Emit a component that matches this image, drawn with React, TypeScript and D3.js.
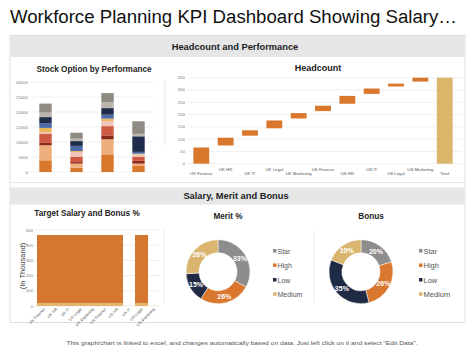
import React from "react";
import * as d3 from "d3";

const FONT = "'Liberation Sans', Arial, sans-serif";

// ---- Stock Option by Performance ----
const stockCategories = ["Star", "High", "Low", "Medium"];
const stockSeries = ["S1", "S2", "S3", "S4", "S5", "S6", "S7", "S8", "S9", "S10"];
const stockColors = ["#d9772d", "#eeaf7c", "#8c2b1d", "#cf5a44", "#f1c4b6", "#e8b65b", "#4c69a6", "#1f2b4b", "#bab5ad", "#8f8a83"];
const stockValues = [
  [3900, 1450, 5900, 2000],
  [5000, 1350, 5000, 800],
  [800, 500, 1300, 900],
  [3100, 1700, 3100, 1300],
  [500, 1700, 1700, 800],
  [1400, 300, 800, 300],
  [1600, 1700, 1300, 600],
  [2000, 1600, 2200, 5200],
  [1500, 800, 2000, 800],
  [3000, 2000, 3000, 4200],
];
const stockTicks = [0, 5000, 10000, 15000, 20000, 25000, 30000];

// ---- Headcount waterfall ----
const headCategories = ["UK Finance", "UK HR", "UK IT", "UK Legal", "UK Marketing", "US Finance", "US HR", "US IT", "US Legal", "US Marketing"];
const headValues = [70, 40, 30, 40, 30, 30, 40, 30, 20, 20];
const headTotalLabel = "Total";
const headTicks = [0, 50, 100, 150, 200, 250, 300, 350];

// ---- Target Salary and Bonus ----
const targetCategories = ["UK Finance", "UK HR", "UK IT", "UK Legal", "UK Marketing", "US Finance", "US HR", "US IT", "US Legal", "US Marketing"];
const targetSalary = [22, 22, 22, 22, 22, 22, 22, 0, 22, 0];
const targetBonus = [445, 445, 445, 445, 445, 445, 445, 0, 445, 0];
const targetTicks = [0, 100, 200, 300, 400, 500];

// ---- Donuts ----
const donutLabels = ["Star", "High", "Low", "Medium"];
const donutColors = ["#8d8d8d", "#d8772d", "#1f2a45", "#d9b56f"];
const meritValues = [33, 26, 15, 26];
const bonusValues = [20, 26, 35, 19];

function StockChart() {
  const x = d3.scaleBand<string>().domain(stockCategories).range([30, 154]).paddingInner(0.6).paddingOuter(0.3);
  const y = d3.scaleLinear().domain([0, 30000]).range([172, 82]);
  const stack = d3.stack<number>().keys(stockSeries.map((_, i) => String(i))).value((d: any, k) => stockValues[+k][d]);
  const layers = stack(stockCategories.map((_, i) => i) as any);
  return (
    <g>
      <text x={94} y={72} textAnchor="middle" fontSize={8.2} fontWeight="bold" fill="#222">Stock Option by Performance</text>
      {stockTicks.map((t) => (
        <g key={t}>
          <line x1={30} x2={154} y1={y(t)} y2={y(t)} stroke="#e6e6e6" strokeWidth={0.6} />
          <text x={28} y={y(t) + 1.5} textAnchor="end" fontSize={4.3} fill="#777">{t}</text>
        </g>
      ))}
      {layers.map((layer, li) => (
        <g key={li} fill={stockColors[li]}>
          {layer.map((d, ci) => (
            <rect key={ci} x={x(stockCategories[ci])} width={x.bandwidth()} y={y(d[1])} height={Math.max(0, y(d[0]) - y(d[1]))} />
          ))}
        </g>
      ))}
    </g>
  );
}

function HeadcountChart() {
  const cats = [...headCategories, headTotalLabel];
  const x = d3.scaleBand<string>().domain(cats).range([189, 457]).paddingInner(0.35).paddingOuter(0.18);
  const y = d3.scaleLinear().domain([0, 350]).range([163.7, 77.7]);
  const cum = d3.cumsum(headValues);
  const total = d3.sum(headValues);
  const bars = headCategories.map((c, i) => ({ c, start: i === 0 ? 0 : cum[i - 1], end: cum[i] }));
  return (
    <g>
      <text x={318} y={71} textAnchor="middle" fontSize={9} fontWeight="bold" fill="#222">Headcount</text>
      {headTicks.map((t) => (
        <g key={t}>
          <line x1={188} x2={462} y1={y(t)} y2={y(t)} stroke="#e6e6e6" strokeWidth={0.6} />
          <text x={185} y={y(t) + 1.5} textAnchor="end" fontSize={4.3} fill="#777">{t}</text>
        </g>
      ))}
      {bars.map((b, i) => {
        const top = y(b.end) + (i === headCategories.length - 1 ? 0 : 1);
        const bot = y(b.start) - (i === 0 ? 0 : 1);
        return <rect key={b.c} x={x(b.c)} width={x.bandwidth()} y={top} height={bot - top} fill="#d9772d" />;
      })}
      <rect x={x(headTotalLabel)} width={x.bandwidth()} y={y(total)} height={y(0) - y(total)} fill="#d9b66a" />
      {cats.map((c, i) => (
        <text key={c} x={(x(c) as number) + x.bandwidth() / 2} y={i % 2 === 0 ? 175 : 170.5} textAnchor="middle" fontSize={4.3} fill="#555">{c}</text>
      ))}
    </g>
  );
}

function TargetChart() {
  const x = d3.scaleBand<string>().domain(targetCategories).range([37.3, 159.3]).padding(0);
  const y = d3.scaleLinear().domain([0, 500]).range([306, 230]);
  return (
    <g>
      <text x={87} y={216} textAnchor="middle" fontSize={8.2} fontWeight="bold" fill="#222">Target Salary and Bonus %</text>
      <text transform={`translate(24.5,266) rotate(-90)`} textAnchor="middle" fontSize={7.5} fill="#444">(In Thousand)</text>
      {targetTicks.map((t) => (
        <g key={t}>
          <line x1={35} x2={160} y1={y(t)} y2={y(t)} stroke="#eadfcf" strokeWidth={0.6} />
          <text x={33} y={y(t) + 1.5} textAnchor="end" fontSize={4.2} fill="#777">{t}</text>
        </g>
      ))}
      <g shapeRendering="crispEdges">
        {targetCategories.map((c, i) => (
          <g key={c}>
            {targetSalary[i] > 0 && (
              <rect x={x(c)} width={x.bandwidth() + 0.6} y={y(targetSalary[i])} height={y(0) - y(targetSalary[i])} fill="#e3b56e" />
            )}
            {targetBonus[i] > 0 && (
              <rect x={x(c)} width={x.bandwidth() + 0.6} y={y(targetSalary[i] + targetBonus[i])} height={y(targetSalary[i]) - y(targetSalary[i] + targetBonus[i])} fill="#d6772f" />
            )}
          </g>
        ))}
      </g>
      {targetCategories.map((c) => {
        const cx = (x(c) as number) + x.bandwidth() / 2 + 2;
        return (
          <text key={c} transform={`translate(${cx},309.5) rotate(-45)`} textAnchor="end" fontSize={4} fill="#555">{c}</text>
        );
      })}
    </g>
  );
}

function Donut({ cx, cy, values, title, legendX, fs }: { cx: number; cy: number; values: number[]; title: string; legendX: number; fs: number }) {
  const pie = d3.pie<number>().sort(null).value((d) => d)(values);
  const arc = d3.arc<d3.PieArcDatum<number>>().innerRadius(19).outerRadius(32);
  const labelArc = d3.arc<d3.PieArcDatum<number>>().innerRadius(25.5).outerRadius(25.5);
  const legendY = [251, 265.5, 280, 294.3];
  return (
    <g>
      <text x={cx + 10} y={219} textAnchor="middle" fontSize={8.2} fontWeight="bold" fill="#222">{title}</text>
      <g transform={`translate(${cx},${cy})`}>
        {pie.map((p, i) => (
          <path key={i} d={arc(p) as string} fill={donutColors[i]} stroke="#fff" strokeWidth={0.5} />
        ))}
        {pie.map((p, i) => {
          const [lx, ly] = labelArc.centroid(p);
          return (
            <text key={i} x={lx} y={ly + 2.5} textAnchor="middle" fontSize={7} fontWeight="bold" fill="#fff">{values[i]}%</text>
          );
        })}
      </g>
      {donutLabels.map((l, i) => (
        <g key={l}>
          <rect x={legendX} y={legendY[i] - 2} width={3.5} height={3.5} fill={donutColors[i]} />
          <text x={legendX + 4.5} y={legendY[i] + 2.5} fontSize={fs} fill="#555">{l}</text>
        </g>
      ))}
    </g>
  );
}

export default function App() {
  return (
    <svg width={474} height={355} style={{ position: "absolute", left: 0, top: 0, background: "#fff" }} fontFamily={FONT}>
      <rect x={0} y={0} width={474} height={355} fill="#fff" />
      <text x={10} y={23} fontSize={18} fill="#111" textLength={447} lengthAdjust="spacingAndGlyphs">Workforce Planning KPI Dashboard Showing Salary…</text>
      <rect x={10} y={35.5} width={455} height={287} fill="#fff" stroke="#d6d6d6" strokeWidth={0.8} />
      <rect x={10.5} y={36} width={454} height={21} fill="#e6e6e6" />
      <text x={235} y={50} textAnchor="middle" fontSize={9.3} fontWeight="bold" fill="#222">Headcount and Performance</text>
      <line x1={165} x2={165} y1={80} y2={145} stroke="#e2e2e2" strokeWidth={0.8} />
      <line x1={10} x2={465} y1={182.5} y2={182.5} stroke="#e0e0e0" strokeWidth={0.8} />
      <rect x={10.5} y={187.5} width={454} height={17} fill="#e6e6e6" />
      <text x={236} y={199} textAnchor="middle" fontSize={9.3} fontWeight="bold" fill="#222">Salary, Merit and Bonus</text>
      <line x1={164} x2={164} y1={230} y2={303} stroke="#e6e6e6" strokeWidth={0.8} />
      <line x1={314} x2={314} y1={230} y2={303} stroke="#e6e6e6" strokeWidth={0.8} />
      <StockChart />
      <HeadcountChart />
      <TargetChart />
      <Donut cx={218} cy={271.7} values={meritValues} title="Merit %" legendX={273} fs={7} />
      <Donut cx={361} cy={271.7} values={bonusValues} title="Bonus" legendX={419} fs={7.5} />
      <text x={242} y={344.5} textAnchor="middle" fontSize={6} fill="#555" textLength={351} lengthAdjust="spacingAndGlyphs">This graph/chart is linked to excel, and changes automatically based on data. Just left click on it and select "Edit Data".</text>
    </svg>
  );
}
